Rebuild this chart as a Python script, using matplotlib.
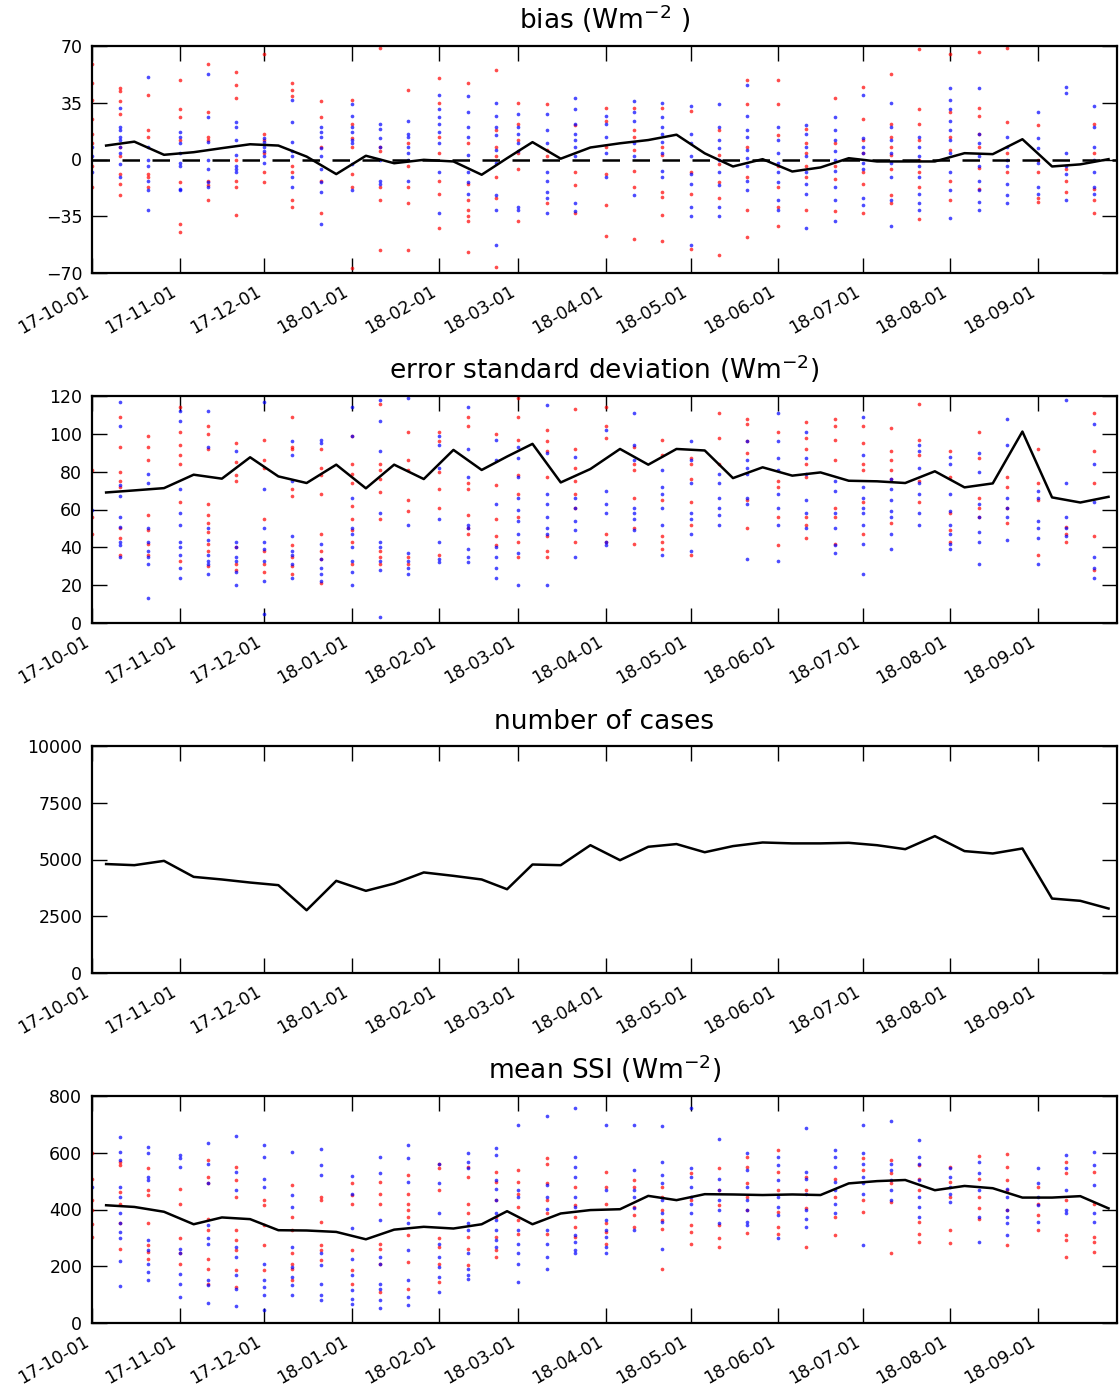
import matplotlib
matplotlib.use("Agg")
import matplotlib.pyplot as plt
import matplotlib.dates as mdates
import numpy as np
import pandas as pd

# dekads Oct 2017 - Sep 2018 (1st, 11th, 21st of each month)
months = pd.date_range("2017-10-01", "2018-09-01", freq="MS")
dekad_days = [1, 11, 21]

# ten-day statistics (black line), one value per dekad
bias_line = [8.6, 11, 2.9, 4.5, 7, 9.4, 8.6, 1.8, -9, 2.3, -2.3, -0.2,
             -1.2, -9.4, 0.8, 10.7, 0.5, 7.4, 10, 12, 15.3, 3.8, -4.3, 0.2,
             -7.4, -4.9, 0.8, -1.2, -1.2, -1.2, 3.9, 3.3, 12.5, -4.3, -3, 0.2]
std_line = [69, 70.1, 71.3, 78.4, 76.3, 87.6, 77.5, 74, 83.7, 71.2, 83.7, 76.1,
            91.5, 80.9, 88, 94.7, 74.3, 81.4, 92, 83.7, 92, 91.2, 76.6, 82.3,
            77.9, 79.6, 75.2, 74.9, 74, 80.2, 71.7, 73.8, 101.2, 66.4, 63.7, 66.7]
cases_line = [4800, 4750, 4940, 4235, 4120, 3985, 3870, 2765, 4060, 3620, 3940, 4430,
              4280, 4120, 3690, 4780, 4750, 5630, 4970, 5560, 5680, 5320, 5590, 5750,
              5710, 5710, 5735, 5630, 5455, 6030, 5370, 5265, 5485, 3280, 3180, 2840]
ssi_line = [415, 409, 392, 348, 372, 366, 327, 326, 321, 295, 329, 339,
            333, 348, 394, 348, 386, 398, 401, 448, 433, 454, 453, 451,
            453, 451, 492, 500, 504, 468, 483, 475, 442, 442, 447, 404]

# per-station values at each dekad start (red / blue dots)
bias_red = [
    [59, 47, 37, 25, 16, 10, -4, -17], [44, 42, 36, 28, 8, 2, -9, -15, -22],
    [40, 18, 14, -9, -11, -17], [49, 31, 26, 12, -14, -40, -45],
    [59, 29, 14, 12, -13, -16, -25], [54, 46, 38, 0, -13, -17, -34],
    [65, 16, 12, 4, -8, -14], [47, 43, 39, -4, -8, -25, -29],
    [36, 26, 8, -13, -33], [37, 22, 13, 8, -9, -17, -67],
    [69, 8, 5, -17, -25, -56], [43, 10, -4, -17, -27, -56],
    [50, 35, 14, 4, -13, -21, -42], [47, 10, -15, -25, -31, -35, -38, -57],
    [55, 18, 8, 2, -11, -24, -66], [35, 22, 12, 4, -6, -38],
    [34, 6, 2, -27], [21, -8, -16, -33],
    [32, 24, 8, -9, -28, -47], [32, 18, 14, 6, -7, -17, -49],
    [32, 8, 3, -20, -23, -34, -50], [30, -8, -21, -55],
    [18, 3, -3, -14, -24, -59], [49, 34, 8, -11, -31, -48],
    [49, 34, 15, -4, -17, -29, -41], [19, 10, 4, -4, -11, -31],
    [38, 10, -4, -12, -32], [45, 25, 12, 4, -8, -15, -33],
    [53, 22, 14, 8, 3, -6, -22, -27], [68, 31, 22, 12, 0, -8, -17, -37],
    [65, 29, 14, 6, -13, -25], [66, 32, 27, 16, 8, -5, -18],
    [69, 23, 4, -8], [21, 0, -8, -24, -26],
    [-6, -13, -20], [22, 4, -18, -25, -33],
]
bias_blue = [
    [8, 2, -8], [32, 20, 18, 14, 12, 8, 4, -3, -11],
    [51, 8, 0, -4, -13, -19, -31], [17, 14, 10, 4, -2, -4, -18, -19],
    [53, 26, 11, 0, -6, -14, -17], [23, 20, 12, 3, -4, -6, -8],
    [13, 11, 8, 5, 2, -2], [37, 23, 11, 5, 2, -11, -17],
    [20, 17, 14, 7, 2, -6, -14, -20, -40], [34, 27, 20, 17, 12, 10, -3, -19],
    [22, 19, 13, 8, 0, -13, -15], [24, 16, 14, 8, 4, 0, -13],
    [40, 31, 26, 22, 17, 10, -8, -33], [39, 29, 20, 14, 3, -8, -14, -21],
    [35, 27, 20, 15, 6, -2, -22, -31, -53], [28, 20, 16, 10, 5, -29, -31],
    [28, 18, 10, -8, -13, -20, -24, -33], [38, 31, 22, 16, 12, 8, 2, -27, -32],
    [27, 22, 14, 4, -11], [36, 29, 24, 10, 2, -22],
    [35, 26, 20, 16, 11, 4, -7, -11], [33, 16, 10, 2, -9, -15, -29, -35, -53],
    [34, 20, 12, 7, 0, -8, -16, -29, -35], [46, 27, 18, 14, 6, 1, -4, -13, -19],
    [20, 12, 4, -2, -8, -14, -25, -31], [21, 16, 8, 2, -8, -15, -21, -42],
    [26, 18, 12, 5, 0, -7, -17, -25, -38], [40, 13, 8, 4, -2, -6, -24, -28],
    [35, 20, 12, 4, -2, -11, -25, -41], [14, 8, 2, -4, -11, -21, -27, -31],
    [44, 37, 31, 24, 18, 12, 4, -8, -19, -36], [44, 16, 10, 2, -4, -13, -19, -26, -31],
    [14, 8, 0, -4, -15, -22, -27], [29, 13, 7, -2, -17, -21],
    [45, 41, 4, -4, -9, -25], [33, 20, 8, 0, -8, -17, -21],
]
std_red = [
    [81, 56, 47], [109, 93, 80, 75, 72, 50, 45, 36],
    [99, 93, 86, 57, 49, 42, 36], [114, 101, 94, 89, 84, 64, 33],
    [104, 100, 92, 63, 57, 53, 48, 42, 38, 30], [95, 85, 78, 75, 40, 31, 28],
    [97, 86, 82, 55, 38, 31, 27], [109, 93, 92, 71, 67, 41, 35, 30, 26],
    [92, 82, 78, 68, 47, 38, 34, 21], [99, 84, 79, 74, 62, 55, 49, 43, 31],
    [116, 84, 81, 76, 69, 55, 38, 35, 31], [101, 86, 81, 65, 59, 35, 31],
    [101, 96, 80, 71, 61, 36], [109, 104, 74, 71, 57, 50, 47],
    [100, 73, 55, 46, 41], [119, 109, 97, 78, 68, 56, 43, 35],
    [102, 96, 91, 77, 46, 38, 35], [113, 92, 82, 75, 68, 61, 43],
    [114, 104, 98, 47, 43], [93, 84, 81, 66, 50, 42],
    [97, 89, 65, 46, 43, 39], [87, 84, 76, 64, 52, 36],
    [111, 98, 84], [108, 105, 96, 90, 65, 50],
    [101, 75, 72, 56, 41], [106, 98, 92, 84, 77, 56, 52, 45],
    [108, 104, 97, 86, 61, 56, 42], [104, 95, 84, 81, 64, 47],
    [103, 91, 86, 81, 76, 53], [116, 97, 89, 75, 64],
    [91, 77, 58, 49, 43], [101, 87, 66, 61, 56],
    [77, 72, 61, 53], [92, 74, 65, 36],
    [51, 47, 43], [111, 91, 74, 46, 28],
]
std_blue = [
    [60], [117, 104, 73, 67, 56, 51, 43, 41, 35],
    [79, 74, 50, 43, 38, 35, 31, 13], [112, 107, 71, 58, 52, 43, 40, 36, 29, 24],
    [112, 93, 50, 44, 36, 33, 31, 26], [91, 43, 40, 35, 33, 27, 20],
    [117, 71, 50, 43, 39, 33, 22, 5], [96, 89, 75, 46, 38, 36, 31, 24],
    [97, 95, 42, 34, 29, 26, 22], [114, 99, 66, 50, 47, 40, 33, 27, 20],
    [118, 107, 91, 58, 43, 40, 33, 28, 3], [119, 52, 37, 33, 29, 26],
    [99, 94, 82, 55, 43, 34, 32], [114, 92, 77, 52, 50, 39, 35, 32],
    [97, 86, 63, 40, 35, 29, 24], [93, 87, 77, 66, 60, 54, 47, 37, 20],
    [115, 90, 68, 63, 56, 50, 47, 20], [88, 66, 61, 54, 49, 35],
    [102, 70, 63, 58, 43, 41], [111, 94, 86, 61, 58, 55, 49],
    [81, 72, 68, 61, 52, 36], [96, 86, 74, 58, 55, 47, 38],
    [79, 74, 66, 61, 57, 52], [96, 86, 82, 79, 66, 63, 34],
    [111, 96, 87, 81, 68, 61, 52, 33], [101, 87, 79, 65, 58, 50],
    [75, 70, 58, 50, 41, 37], [109, 89, 72, 66, 61, 58, 52, 42, 26],
    [76, 71, 65, 59, 56, 47, 39], [94, 91, 82, 74, 68, 58, 52],
    [88, 84, 68, 59, 52, 47, 42, 39], [90, 80, 63, 56, 48, 43, 31],
    [108, 94, 66, 61, 56, 44], [70, 66, 54, 50, 45, 31],
    [118, 74, 56, 50, 46], [105, 84, 64, 35, 29, 24],
]
ssi_red = [
    [598, 509, 433, 398, 350, 303], [568, 556, 462, 421, 351, 262],
    [545, 468, 451, 351, 274, 251, 227], [474, 421, 298, 245, 209],
    [574, 515, 492, 368, 327, 227, 192, 139], [551, 504, 445, 327, 292, 256, 186, 127],
    [433, 416, 345, 274, 186], [486, 374, 327, 247, 209, 192, 151],
    [445, 433, 356, 274, 256, 221], [492, 451, 419, 259, 188, 139],
    [498, 456, 421, 280, 262, 209, 109], [521, 456, 421, 398, 374, 309, 215, 121],
    [562, 545, 468, 298, 268, 209, 145], [551, 515, 421, 386, 303, 262, 204],
    [533, 498, 433, 374, 303, 256, 233], [539, 498, 456, 409, 362, 315],
    [580, 562, 492, 433, 386, 315], [480, 415, 374, 339, 304],
    [533, 480, 421, 351, 321, 280], [504, 480, 409, 380, 339],
    [480, 445, 398, 362, 333, 192], [527, 433, 345, 321, 280],
    [545, 468, 415, 345, 298, 268], [586, 551, 492, 445, 398, 318],
    [609, 533, 468, 392, 339, 315], [515, 468, 404, 268],
    [509, 445, 374, 309], [580, 539, 433, 392],
    [574, 527, 492, 427, 247], [556, 509, 468, 356, 315, 286],
    [551, 498, 445, 327, 282], [588, 509, 445, 404, 368],
    [595, 551, 504, 468, 398, 274], [480, 421, 380, 327],
    [568, 527, 433, 309, 292, 233], [533, 421, 304, 286, 251],
]
ssi_blue = [
    [480], [656, 604, 574, 480, 445, 386, 351, 321, 298, 219, 129],
    [621, 598, 515, 504, 292, 256, 209, 180, 151], [592, 580, 551, 262, 245, 174, 139, 92],
    [633, 562, 492, 345, 298, 280, 151, 133, 71], [659, 533, 468, 268, 233, 168, 121, 59],
    [629, 586, 509, 480, 209, 151, 127, 98, 47], [604, 451, 409, 268, 198, 162, 133, 98],
    [612, 556, 521, 245, 204, 139, 98, 80], [518, 456, 336, 227, 168, 115, 86, 68],
    [586, 529, 362, 233, 209, 139, 121, 80, 54], [627, 580, 498, 351, 256, 151, 92, 62],
    [562, 492, 386, 280, 233, 198, 162, 109], [598, 568, 545, 351, 327, 245, 192, 168, 156],
    [615, 592, 504, 474, 433, 386, 362, 327, 292, 268], [698, 468, 445, 327, 280, 245, 209, 145],
    [729, 486, 445, 403, 327, 280, 233, 192],
    [756, 586, 551, 515, 445, 409, 309, 286, 256, 245],
    [698, 468, 362, 327, 304, 268, 247], [698, 539, 468, 445, 404, 329],
    [695, 568, 521, 492, 433, 386, 356, 262], [756, 545, 515, 480, 445, 421, 386],
    [647, 509, 468, 433, 398, 351], [598, 539, 480, 433, 398, 356, 345],
    [586, 556, 504, 445, 409, 380, 298], [686, 533, 509, 456, 398, 368, 339],
    [609, 586, 551, 498, 468, 421, 386], [698, 598, 562, 515, 492, 456, 274],
    [713, 562, 539, 504, 468, 433], [645, 586, 562, 504, 445, 409, 374],
    [545, 515, 480, 456, 427], [568, 527, 468, 374, 286],
    [474, 445, 398, 374, 351, 309], [545, 492, 445, 415, 356],
    [592, 545, 468, 398, 386], [604, 556, 486, 386, 356],
]

dekad_start = pd.DatetimeIndex([m.replace(day=d) for m in months for d in dekad_days])
dekad_end = dekad_start[1:].append(pd.DatetimeIndex(["2018-10-01"]))
dekad_mid = dekad_start + (dekad_end - dekad_start) / 2

plt.rcParams["font.family"] = "DejaVu Sans"
plt.rcParams["font.size"] = 12.5

W, H = 1119, 1389
fig = plt.figure(figsize=(W / 100, H / 100), dpi=100)


def make_axes(top_px):
    ax = fig.add_axes([92 / W, 1 - (top_px + 227) / H, 1025 / W, 227 / H])
    for sp in ax.spines.values():
        sp.set_linewidth(1.6)
    ax.tick_params(direction="in", length=11, width=1, top=True, right=True,
                   labelsize=12.5, pad=7)
    ax.xaxis.set_major_locator(mdates.MonthLocator())
    ax.xaxis.set_major_formatter(mdates.DateFormatter("%y-%m-%d"))
    ax.set_xlim(pd.Timestamp("2017-10-01"), pd.Timestamp("2018-09-29"))
    return ax


def add_dots(ax, red, blue):
    for i, t in enumerate(dekad_start):
        ax.scatter([t] * len(red[i]), red[i], s=7, color="r", alpha=0.7,
                   linewidths=0, zorder=2)
        ax.scatter([t] * len(blue[i]), blue[i], s=7, color="b", alpha=0.7,
                   linewidths=0, zorder=2)


title_kw = dict(fontsize=19, pad=12)

ax1 = make_axes(46)
add_dots(ax1, bias_red, bias_blue)
ax1.axhline(0, color="k", linestyle=(0, (7, 5)), linewidth=1.8, zorder=3)
ax1.plot(dekad_mid, bias_line, color="k", linewidth=1.8, zorder=4)
ax1.set_ylim(-70, 70)
ax1.set_yticks([-70, -35, 0, 35, 70])
ax1.set_title(r"bias (Wm$^{-2}$ )", **title_kw)

ax2 = make_axes(396)
add_dots(ax2, std_red, std_blue)
ax2.plot(dekad_mid, std_line, color="k", linewidth=1.8, zorder=4)
ax2.set_ylim(0, 120)
ax2.set_yticks(np.arange(0, 121, 20))
ax2.set_title(r"error standard deviation (Wm$^{-2}$)", **title_kw)

ax3 = make_axes(746)
ax3.plot(dekad_mid, cases_line, color="k", linewidth=1.8, zorder=4)
ax3.set_ylim(0, 10000)
ax3.set_yticks([0, 2500, 5000, 7500, 10000])
ax3.set_title("number of cases", **title_kw)

ax4 = make_axes(1096)
add_dots(ax4, ssi_red, ssi_blue)
ax4.plot(dekad_mid, ssi_line, color="k", linewidth=1.8, zorder=4)
ax4.set_ylim(0, 800)
ax4.set_yticks(np.arange(0, 801, 200))
ax4.set_title(r"mean SSI (Wm$^{-2}$)", **title_kw)

for ax in (ax1, ax2, ax3, ax4):
    plt.setp(ax.get_xticklabels(), rotation=30, ha="right")

fig.savefig("out.png", dpi=100)
